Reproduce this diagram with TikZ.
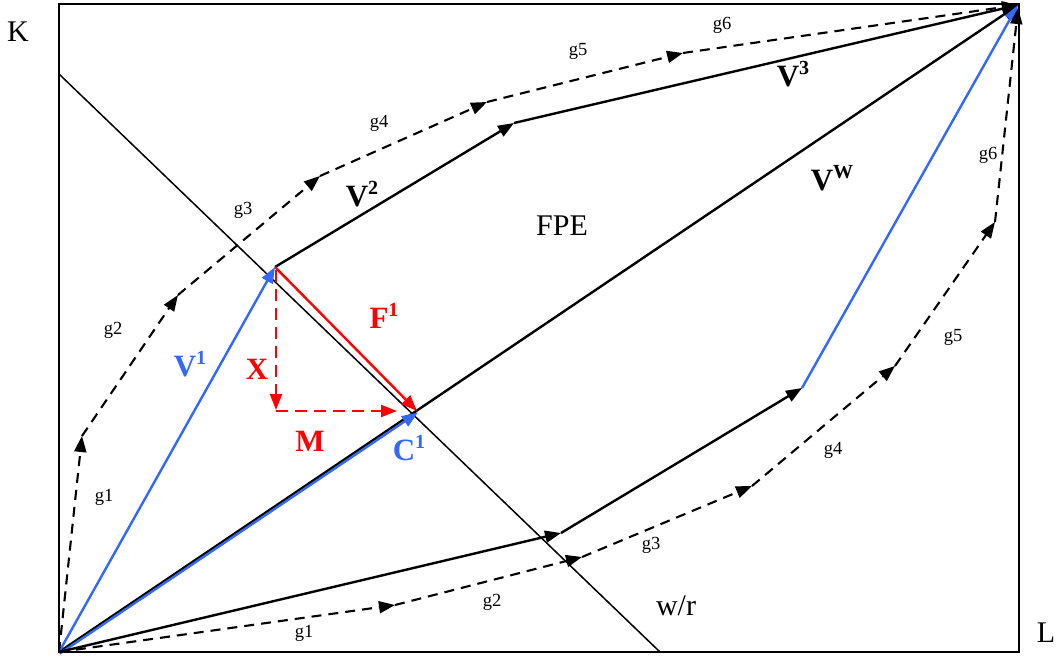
\documentclass[tikz,border=0pt]{standalone}
\usepackage{fontspec}
\setmainfont{Liberation Serif}
\usetikzlibrary{arrows.meta}
\definecolor{vblue}{RGB}{51,104,250}
\definecolor{vred}{RGB}{255,0,0}
\newcommand\vsupx[1]{\raisebox{12pt}{\fontsize{20}{20}\selectfont #1}}
\begin{document}
\begin{tikzpicture}[x=1pt,y=-1pt,
  tipx/.style={-{Triangle[length=16pt,width=12pt]}},
  vec/.style={line width=2.4pt, tipx},
  gpath/.style={line width=2.1pt, dash pattern=on 10pt off 7pt, tipx},
  rdash/.style={vred, line width=2.2pt, dash pattern=on 12pt off 7pt, tipx},
  glab/.style={font=\fontsize{18.5}{18.5}\selectfont, inner sep=0pt},
  axlab/.style={font=\fontsize{30}{30}\selectfont, inner sep=0pt},
  vlab/.style={font=\fontsize{31}{31}\selectfont\bfseries, inner sep=0pt},
]
\useasboundingbox (0,0) rectangle (1060,657);
% key points
\coordinate (BL) at (59,652);
\coordinate (TR) at (1019,4);
\coordinate (O) at (59,652);
\coordinate (T) at (1018,5);
\coordinate (A) at (275,267);
\coordinate (B) at (514,123);
\coordinate (C) at (417,411);
\coordinate (D) at (561,533);
\coordinate (E) at (802,388);
\coordinate (W1) at (59,74);
\coordinate (W2) at (660,652);
\coordinate (Xs) at (276,270);
\coordinate (Xe) at (276,410);
\coordinate (Ms) at (276,411);
\coordinate (Me) at (397,411);
% upper dashed path
\coordinate (u1) at (82,436);
\coordinate (u2) at (178,295);
\coordinate (u3) at (320,176);
\coordinate (u4) at (487,102);
\coordinate (u5) at (683,53);
% lower dashed path
\coordinate (l1) at (395,605);
\coordinate (l2) at (582,557);
\coordinate (l3) at (752,486);
\coordinate (l4) at (895,366);
\coordinate (l5) at (995,222);

% frame
\draw[line width=2pt] (BL) rectangle (TR);
% budget line
\draw[line width=1.5pt] (W1) -- (W2);
% diagonal
\draw[line width=2.4pt, tipx] (O) -- (T);
\draw[vblue, line width=2.4pt, tipx] ([xshift=0.9pt,yshift=-1.5pt]O) -- ([xshift=0.9pt,yshift=-1.5pt]C);

% upper solid path
\draw[vblue, vec] (O) -- (A);
\draw[vec] (A) -- (B);
\draw[vec] (B) -- (T);
% lower solid path
\draw[vec] (O) -- (D);
\draw[vec] (D) -- (E);
\draw[vblue, vec] (E) -- (T);

% red vectors
\draw[vred, vec] (A) -- (C);
\draw[rdash] (Xs) -- (Xe);
\draw[rdash] (Ms) -- (Me);

% upper dashed growth path
\draw[gpath] (O) -- (u1);
\draw[gpath] (u1) -- (u2);
\draw[gpath] (u2) -- (u3);
\draw[gpath] (u3) -- (u4);
\draw[gpath] (u4) -- (u5);
\draw[gpath] (u5) -- (T);
% lower dashed growth path
\draw[gpath] (O) -- (l1);
\draw[gpath] (l1) -- (l2);
\draw[gpath] (l2) -- (l3);
\draw[gpath] (l3) -- (l4);
\draw[gpath] (l4) -- (l5);
\draw[gpath] (l5) -- ([yshift=-3pt]T);

% labels
\node[axlab] (K) at (18,32) {K};
\node[axlab] (L) at (1046,633) {L};
\node[axlab] (wr) at (676,606) {w/r};
\node[axlab] (fpe) at (562,226) {FPE};

\node[glab] (ug1) at (104,497) {g1};
\node[glab] (ug2) at (113,330) {g2};
\node[glab] (ug3) at (243,210) {g3};
\node[glab] (ug4) at (379,123) {g4};
\node[glab] (ug5) at (578,51) {g5};
\node[glab] (ug6) at (722,25) {g6};
\node[glab] (lg1) at (304,633) {g1};
\node[glab] (lg2) at (492,602) {g2};
\node[glab] (lg3) at (651,545) {g3};
\node[glab] (lg4) at (833,450) {g4};
\node[glab] (lg5) at (953,337) {g5};
\node[glab] (lg6) at (988,155) {g6};

\node[vlab, vblue] (v1) at (190,364) {V\vsupx{1}};
\node[vlab] (v2) at (362,194) {V\vsupx{2}};
\node[vlab] (v3) at (793,74) {V\vsupx{3}};
\node[vlab] (vw) at (832,178) {V\vsupx{\bfseries W}};
\node[vlab, vred] (f1) at (384,316) {F\vsupx{1}};
\node[vlab, vred] (xl) at (257,369) {X};
\node[vlab, vred] (ml) at (310,441) {M};
\node[vlab, vblue] (c1) at (409,448) {C\vsupx{1}};
\end{tikzpicture}
\end{document}
